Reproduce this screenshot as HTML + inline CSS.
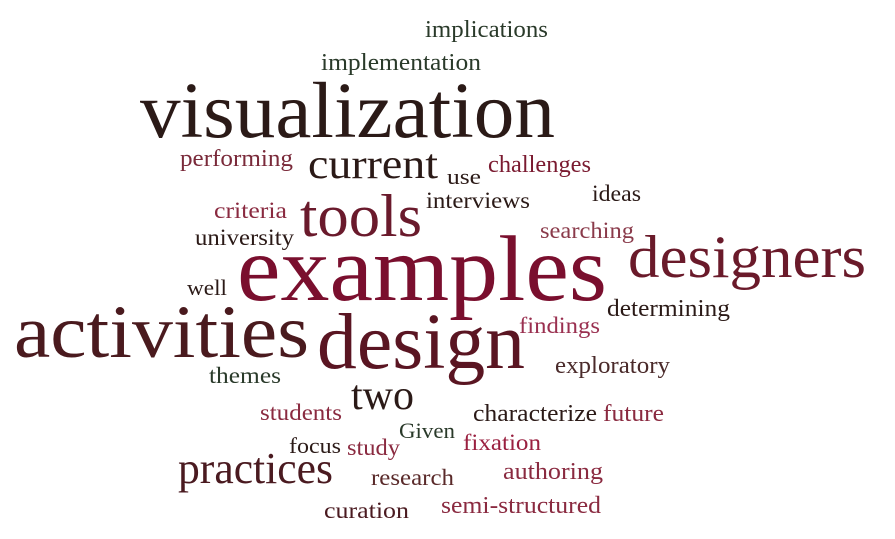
<!DOCTYPE html>
<html><head><meta charset="utf-8"><style>
html,body{margin:0;padding:0;background:#fff;}
svg{display:block;}
text{font-family:"Liberation Serif",serif;}
</style></head><body>
<svg width="895" height="539" viewBox="0 0 895 539">
<g id="words"></g>
</svg>
<script>
const words=["implications","implementation","visualization","performing","current","use","challenges","ideas","criteria","tools","interviews","university","searching","designers","well","examples","determining","activities","design","findings","exploratory","themes","two","students","characterize","future","Given","focus","study","fixation","practices","research","authoring","curation","semi-structured"];
const sizes=[22,22,72,22,38,20,22,21,21,55,21,21,21,55,20,85,22,68,72,21,22,21,38,21,22,22,20,20,21,21,40,21,22,21,22];
const xs=[425,321,140,180,308,447,488,592,214,300,426,195,540,628,187,237,607,14,317,519,555,209,351,260,473,603,399,289,347,463,178,371,503,324,441];
const ys=[37,70,137,166,178,184,172,201,218,236,208,245,238,277,295,300,316,357,368,333,373,383,409,420,421,421,438,453,455,450,483,485,479,518,513];
const widths=[123,160,415,113,130,34,103,49,73,122,104,99,94,238,40,370,123,295,208,81,115,72,63,82,124,61,56,52,53,78,155,83,100,85,160];
const colors=["#2a3a2a","#2a3a2a","#2b1a17","#7a2a3a","#2b1a17","#2b1a17","#7a1a30","#2b1a17","#8a2a40","#6a1a2c","#2b1a17","#2b1a17","#8a3a4a","#6a1a2a","#2b1a17","#7a0f2e","#2b1a17","#4a1a1e","#5a1522","#9a3050","#4a2a2a","#2a3a2a","#2b1a17","#8a2a40","#2b1a17","#8a2a40","#2a3a2a","#2b1a17","#8a2a40","#9a2040","#4a1a20","#5a2a2a","#8a2a40","#4a1a20","#8a2a40"];
const g=document.getElementById('words');
words.forEach((w,i)=>{
 const t=document.createElementNS('http://www.w3.org/2000/svg','text');
 
 
 t.setAttribute('x',xs[i]);t.setAttribute('y',ys[i]);
 t.setAttribute('font-size',(sizes[i]*1.1).toFixed(1));t.setAttribute('fill',colors[i]);
 t.setAttribute('textLength',widths[i]);t.setAttribute('lengthAdjust','spacingAndGlyphs');
 t.textContent=w;g.appendChild(t);
});
</script>
</body></html>
